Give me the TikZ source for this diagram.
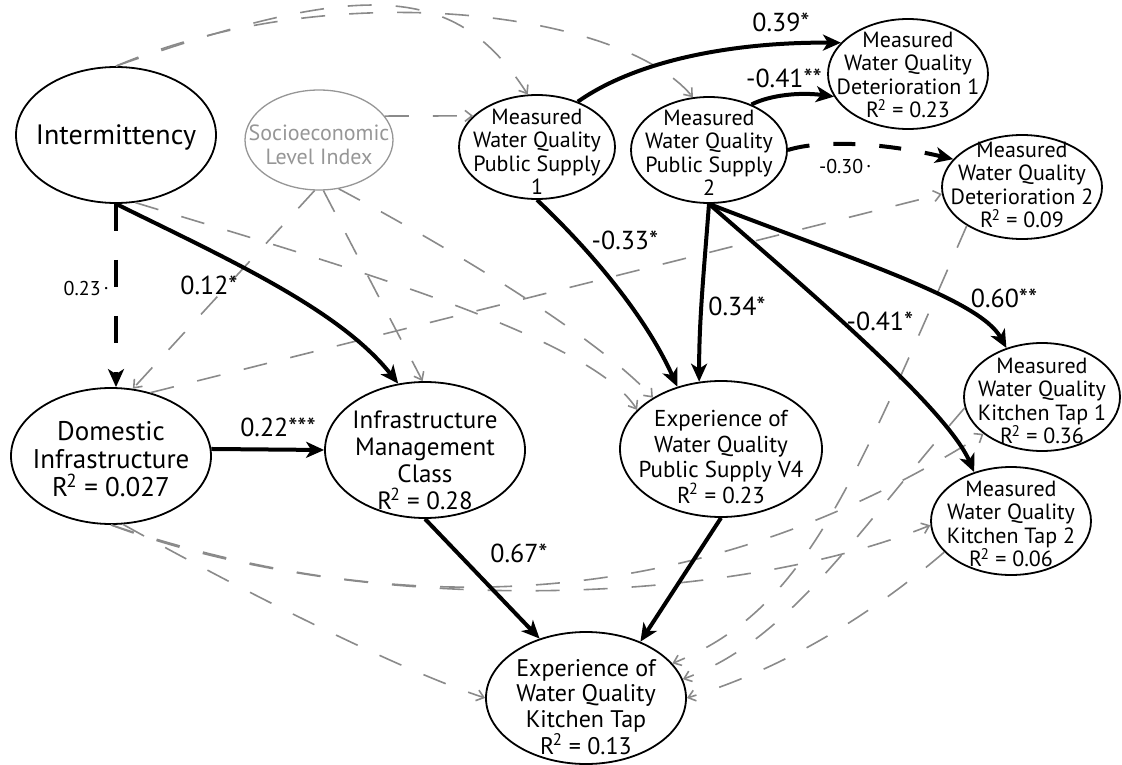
\documentclass[tikz,border=0pt]{standalone}
\usepackage{fontspec}
\setmainfont{PT Sans}
\usetikzlibrary{arrows.meta,shapes.geometric}
\definecolor{gline}{RGB}{138,138,138}
\definecolor{gsoc}{RGB}{150,150,150}
\newcommand{\Rsq}{R\kern-0.07em\textsuperscript{2}}
\begin{document}
\begin{tikzpicture}[x=1pt,y=-1pt,
  ell/.style={ellipse, draw, line width=1.8pt, inner sep=0pt},
  txt/.style={inner sep=0pt, align=center},
  bigf/.style={font=\fontsize{28}{29}\selectfont},
  midf/.style={font=\fontsize{23}{25.5}\selectfont},
  smlf/.style={font=\fontsize{22}{23.5}\selectfont},
  lab/.style={inner sep=0pt, font=\fontsize{26}{26}\selectfont},
  labs/.style={inner sep=0pt, font=\fontsize{20}{20}\selectfont},
  bk/.style={line width=4pt, -{Stealth[length=18pt,width=16pt,inset=5pt]}},
  gr/.style={draw=gline, line width=1.6pt, dash pattern=on 24pt off 24pt,
    -{Straight Barb[length=7pt,width=11pt]}}
]
\useasboundingbox (0,0) rectangle (1122,765);

% ---------- nodes ----------
\node[ell, minimum width=200pt, minimum height=136pt] (int) at (116,135) {};
\node[txt, bigf] (intt) at (116,137) {Intermittency};

\node[ell, draw=gsoc, line width=1.3pt, minimum width=148pt, minimum height=100pt] (soc) at (319,140) {};
\node[txt, smlf, text=gsoc] (soct) at (319,145) {Socioeconomic\\Level Index};

\node[ell, minimum width=156pt, minimum height=104pt] (ps1) at (537,147) {};
\node[txt, smlf] (ps1t) at (537,152) {Measured\\Water Quality\\Public Supply\\1};

\node[ell, minimum width=156pt, minimum height=106pt] (ps2) at (709,150) {};
\node[txt, smlf] (ps2t) at (709,153) {Measured\\Water Quality\\Public Supply\\2};

\node[ell, minimum width=160pt, minimum height=110pt] (det1) at (908,74) {};
\node[txt, smlf] (det1t) at (908,75) {Measured\\Water Quality\\Deterioration 1\\\Rsq{} = 0.23};

\node[ell, minimum width=160pt, minimum height=104pt] (det2) at (1022,187) {};
\node[txt, smlf] (det2t) at (1022,185) {Measured\\Water Quality\\Deterioration 2\\\Rsq{} = 0.09};

\node[ell, minimum width=156pt, minimum height=108pt] (kt1) at (1042,397) {};
\node[txt, smlf] (kt1t) at (1042,401) {Measured\\Water Quality\\Kitchen Tap 1\\\Rsq{} = 0.36};

\node[ell, minimum width=160pt, minimum height=108pt] (kt2) at (1011,521) {};
\node[txt, smlf] (kt2t) at (1011,524) {Measured\\Water Quality\\Kitchen Tap 2\\\Rsq{} = 0.06};

\node[ell, minimum width=200pt, minimum height=136pt] (dom) at (111,456) {};
\node[txt, font=\fontsize{27}{28}\selectfont] (domt) at (111,459) {Domestic\\Infrastructure\\\Rsq{} = 0.027};

\node[ell, minimum width=200pt, minimum height=136pt] (imc) at (425,450) {};
\node[txt, font=\fontsize{25}{27}\selectfont] (imct) at (425,460) {Infrastructure\\Management\\Class\\\Rsq{} = 0.28};

\node[ell, minimum width=202pt, minimum height=136pt] (exps) at (721,449) {};
\node[txt, midf] (expst) at (721,457) {Experience of\\Water Quality\\Public Supply V4\\\Rsq{} = 0.23};

\node[ell, minimum width=200pt, minimum height=132pt] (exkt) at (586,698) {};
\node[txt, font=\fontsize{24}{25.5}\selectfont] (exktt) at (586,707) {Experience of\\Water Quality\\Kitchen Tap\\\Rsq{} = 0.13};

% ---------- gray dashed paths ----------
\draw[gr] (int.north) .. controls (368,-23) and (457,-15) .. (ps1.100);
\draw[gr] (int.north) .. controls (330,-25) and (620,10) .. (ps2.107);
\draw[gr] (soc.20) -- (ps1.154);
\draw[gr] (soc.-95) -- (dom.72);
\draw[gr] (soc.-85) -- (imc.92);
\draw[gr] (soc.-68) .. controls (460,253) and (600,340) .. (exps.143);
\draw[gr] (int.-74) .. controls (330,262) and (590,335) .. (exps.155);
\draw[gr] (dom.58) -- (det2.185);
\draw[gr] (dom.south) .. controls (380,615) and (680,625) .. (kt1);
\draw[gr] (dom.south) .. controls (350,615) and (720,610) .. (kt2.183);
\draw[gr] (dom.-80) .. controls (250,595) and (400,670) .. (exkt.west);
\draw[gr] (det2.-145) .. controls (850,493) and (803,611) .. (exkt);
\draw[gr] (kt1.-172) .. controls (852,538) and (789,640) .. (exkt.11);
\draw[gr] (kt2.-155) .. controls (865,620) and (779,670) .. (exkt.east);

% ---------- black paths ----------
\draw[bk, dash pattern=on 27pt off 29pt] (int.south) -- (int.south |- dom.north);
\draw[bk] (int.south) .. controls (230,260) and (340,310) .. (imc.112);
\draw[bk] (dom.4) -- (imc.west);
\draw[bk] (imc.south) -- (exkt.128);
\draw[bk] (exps.south) -- (exkt.46);
\draw[bk] (ps1.south) .. controls (590,250) and (645,315) .. (exps.125);
\draw[bk] (ps2.south) .. controls (704,270) and (699,320) .. (exps.108);
\draw[bk] (ps2.south) .. controls (790,275) and (945,405) .. (kt2.127);
\draw[bk] (ps2.south) .. controls (860,262) and (980,300) .. (kt1.126);
\draw[bk] (ps1.48) .. controls (640,58) and (740,42) .. (det1.155);
\draw[bk] (ps2.47) .. controls (770,95) and (800,92) .. (det1.197);
\draw[bk, dash pattern=on 22pt off 24pt] (ps2.east) .. controls (820,140) and (880,142) .. (det2.158);

% ---------- labels ----------
\node[labs] (l1) at (86,288) {0.23\,\raisebox{.55ex}{.}};
\node[lab] (l2) at (209,285) {0.12*};
\node[lab] (l3) at (278,427) {0.22***};
\node[lab] (l4) at (519,553) {0.67*};
\node[lab] (l5) at (625,240) {-0.33*};
\node[lab] (l6) at (737,306) {0.34*};
\node[lab] (l7) at (880,321) {-0.41*};
\node[lab] (l8) at (1004,298) {0.60**};
\node[lab] (l9) at (781,22) {0.39*};
\node[lab] (l10) at (784,78) {-0.41**};
\node[labs] (l11) at (845,166) {-0.30\,\raisebox{.55ex}{.}};
\end{tikzpicture}
\end{document}
